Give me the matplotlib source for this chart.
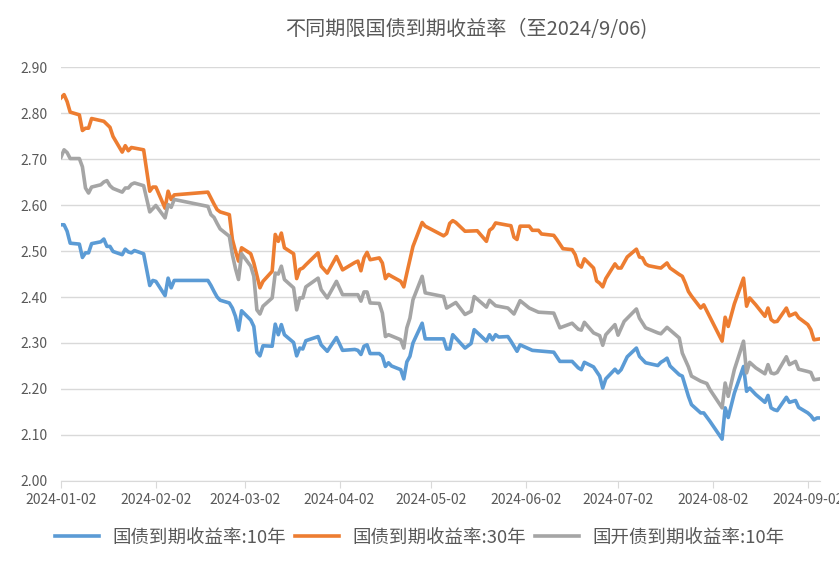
import matplotlib
matplotlib.use("Agg")
import matplotlib.pyplot as plt
import matplotlib.dates as mdates
import pandas as pd

plt.rcParams['font.family'] = ['Noto Sans CJK SC', 'DejaVu Sans']

# 国债 10Y
d10 = ["01-02", "01-03", "01-04", "01-05", "01-08", "01-09", "01-10", "01-11", "01-12", "01-15",
       "01-16", "01-17", "01-18", "01-19", "01-22", "01-23", "01-24", "01-25", "01-26", "01-29",
       "01-31", "02-01", "02-02", "02-05", "02-06", "02-07", "02-08", "02-19", "02-20", "02-21",
       "02-22", "02-23", "02-26", "02-27", "02-28", "02-29", "03-01", "03-04", "03-05", "03-06",
       "03-07", "03-08", "03-11", "03-12", "03-13", "03-14", "03-15", "03-18", "03-19", "03-20",
       "03-21", "03-22", "03-26", "03-27", "03-29", "04-01", "04-03", "04-07", "04-08", "04-09",
       "04-10", "04-11", "04-12", "04-15", "04-16", "04-17", "04-18", "04-19", "04-22", "04-23",
       "04-24", "04-25", "04-26", "04-29", "04-30", "05-06", "05-07", "05-08", "05-09", "05-13",
       "05-15", "05-16", "05-20", "05-21", "05-22", "05-23", "05-24", "05-27", "05-28", "05-29",
       "05-30", "05-31", "06-04", "06-11", "06-13", "06-17", "06-19", "06-20", "06-21", "06-24",
       "06-26", "06-27", "06-28", "07-01", "07-02", "07-03", "07-05", "07-08", "07-09", "07-11",
       "07-15", "07-16", "07-17", "07-18", "07-19", "07-22", "07-23", "07-25", "07-26", "07-29",
       "07-30", "08-01", "08-05", "08-06", "08-07", "08-09", "08-12", "08-13", "08-14", "08-16",
       "08-19", "08-20", "08-21", "08-22", "08-23", "08-26", "08-27", "08-29", "08-30", "09-02",
       "09-03", "09-04", "09-05", "09-06"]
y10 = [2.557, 2.557, 2.543, 2.517, 2.515, 2.486, 2.496, 2.496, 2.516, 2.520,
       2.526, 2.510, 2.510, 2.499, 2.492, 2.504, 2.498, 2.496, 2.501, 2.494,
       2.425, 2.436, 2.434, 2.403, 2.441, 2.420, 2.436, 2.436, 2.425, 2.412,
       2.400, 2.393, 2.387, 2.376, 2.358, 2.328, 2.370, 2.350, 2.336, 2.280,
       2.272, 2.294, 2.293, 2.341, 2.318, 2.340, 2.318, 2.301, 2.272, 2.289,
       2.287, 2.305, 2.314, 2.296, 2.282, 2.312, 2.284, 2.286, 2.284, 2.275,
       2.293, 2.296, 2.277, 2.277, 2.271, 2.249, 2.257, 2.250, 2.242, 2.222,
       2.259, 2.271, 2.300, 2.343, 2.309, 2.309, 2.287, 2.287, 2.318, 2.289,
       2.299, 2.329, 2.304, 2.318, 2.307, 2.318, 2.313, 2.314, 2.304, 2.293,
       2.282, 2.296, 2.284, 2.280, 2.260, 2.260, 2.246, 2.242, 2.258, 2.248,
       2.228, 2.202, 2.222, 2.243, 2.235, 2.242, 2.270, 2.289, 2.271, 2.257,
       2.251, 2.258, 2.262, 2.267, 2.250, 2.231, 2.228, 2.184, 2.166, 2.148,
       2.148, 2.130, 2.091, 2.159, 2.138, 2.191, 2.249, 2.195, 2.202, 2.188,
       2.171, 2.186, 2.159, 2.155, 2.153, 2.182, 2.171, 2.175, 2.160, 2.148,
       2.142, 2.133, 2.137, 2.137]

# 国债 30Y
d30 = ["01-02", "01-03", "01-04", "01-05", "01-08", "01-09", "01-10", "01-11", "01-12", "01-16",
       "01-18", "01-19", "01-22", "01-23", "01-24", "01-25", "01-29", "01-31", "02-01", "02-02",
       "02-05", "02-06", "02-07", "02-08", "02-19", "02-20", "02-21", "02-22", "02-23", "02-26",
       "02-27", "02-28", "02-29", "03-01", "03-04", "03-05", "03-07", "03-08", "03-11", "03-12",
       "03-13", "03-14", "03-15", "03-18", "03-19", "03-20", "03-21", "03-22", "03-26", "03-27",
       "03-29", "04-01", "04-03", "04-07", "04-08", "04-09", "04-10", "04-11", "04-12", "04-15",
       "04-16", "04-17", "04-18", "04-19", "04-22", "04-23", "04-24", "04-26", "04-29", "04-30",
       "05-06", "05-07", "05-08", "05-09", "05-10", "05-13", "05-17", "05-20", "05-21", "05-22",
       "05-23", "05-27", "05-28", "05-29", "05-30", "05-31", "06-03", "06-04", "06-06", "06-07",
       "06-11", "06-12", "06-14", "06-17", "06-18", "06-19", "06-20", "06-21", "06-24", "06-25",
       "06-26", "06-27", "06-28", "07-01", "07-02", "07-03", "07-05", "07-08", "07-09", "07-10",
       "07-11", "07-12", "07-15", "07-16", "07-18", "07-19", "07-22", "07-23", "07-24", "07-25",
       "07-26", "07-29", "07-30", "08-05", "08-06", "08-07", "08-09", "08-12", "08-13", "08-14",
       "08-16", "08-19", "08-20", "08-21", "08-22", "08-23", "08-26", "08-27", "08-29", "08-30",
       "09-02", "09-03", "09-04", "09-06"]
y30 = [2.833, 2.840, 2.825, 2.802, 2.796, 2.762, 2.767, 2.767, 2.788, 2.782,
       2.769, 2.749, 2.715, 2.729, 2.718, 2.725, 2.720, 2.630, 2.639, 2.639,
       2.593, 2.630, 2.612, 2.622, 2.628, 2.615, 2.602, 2.590, 2.585, 2.579,
       2.525, 2.500, 2.478, 2.507, 2.494, 2.474, 2.420, 2.434, 2.456, 2.536,
       2.521, 2.539, 2.507, 2.494, 2.440, 2.460, 2.463, 2.470, 2.496, 2.467,
       2.452, 2.488, 2.459, 2.475, 2.478, 2.457, 2.485, 2.497, 2.481, 2.485,
       2.474, 2.440, 2.449, 2.445, 2.434, 2.422, 2.452, 2.510, 2.562, 2.554,
       2.533, 2.538, 2.560, 2.566, 2.562, 2.543, 2.544, 2.521, 2.545, 2.550,
       2.561, 2.556, 2.555, 2.530, 2.525, 2.554, 2.554, 2.545, 2.545, 2.537,
       2.534, 2.525, 2.505, 2.503, 2.492, 2.470, 2.465, 2.483, 2.463, 2.435,
       2.430, 2.422, 2.440, 2.472, 2.463, 2.463, 2.487, 2.504, 2.487, 2.485,
       2.472, 2.468, 2.464, 2.463, 2.474, 2.463, 2.449, 2.445, 2.430, 2.412,
       2.402, 2.376, 2.383, 2.304, 2.356, 2.336, 2.385, 2.441, 2.380, 2.398,
       2.383, 2.358, 2.376, 2.351, 2.346, 2.347, 2.376, 2.359, 2.365, 2.355,
       2.340, 2.329, 2.307, 2.309]

# 国开债 10Y
dcdb = ["01-02", "01-03", "01-04", "01-05", "01-08", "01-09", "01-10", "01-11", "01-12", "01-15",
        "01-16", "01-17", "01-18", "01-19", "01-22", "01-23", "01-24", "01-25", "01-26", "01-29",
        "01-31", "02-02", "02-05", "02-06", "02-07", "02-08", "02-19", "02-20", "02-21", "02-22",
        "02-23", "02-26", "02-27", "02-28", "02-29", "03-01", "03-04", "03-05", "03-06", "03-07",
        "03-08", "03-11", "03-12", "03-13", "03-14", "03-15", "03-18", "03-19", "03-20", "03-21",
        "03-22", "03-26", "03-27", "03-29", "04-01", "04-03", "04-07", "04-08", "04-09", "04-10",
        "04-11", "04-12", "04-15", "04-16", "04-17", "04-18", "04-22", "04-23", "04-24", "04-25",
        "04-26", "04-29", "04-30", "05-06", "05-07", "05-08", "05-10", "05-13", "05-15", "05-16",
        "05-20", "05-21", "05-23", "05-27", "05-29", "05-31", "06-03", "06-06", "06-11", "06-13",
        "06-17", "06-19", "06-20", "06-21", "06-24", "06-26", "06-27", "06-28", "07-01", "07-02",
        "07-04", "07-08", "07-09", "07-11", "07-15", "07-16", "07-18", "07-22", "07-23", "07-25",
        "07-26", "07-29", "07-31", "08-01", "08-05", "08-06", "08-07", "08-09", "08-12", "08-13",
        "08-14", "08-16", "08-19", "08-20", "08-21", "08-22", "08-23", "08-26", "08-27", "08-29",
        "08-30", "09-02", "09-03", "09-04", "09-06"]
ycdb = [2.704, 2.720, 2.714, 2.701, 2.701, 2.683, 2.637, 2.626, 2.639, 2.644,
        2.650, 2.653, 2.642, 2.636, 2.628, 2.637, 2.637, 2.645, 2.648, 2.642,
        2.585, 2.599, 2.572, 2.601, 2.595, 2.612, 2.597, 2.579, 2.573, 2.560,
        2.548, 2.532, 2.492, 2.462, 2.438, 2.494, 2.467, 2.445, 2.372, 2.363,
        2.380, 2.398, 2.452, 2.450, 2.467, 2.438, 2.420, 2.372, 2.398, 2.398,
        2.422, 2.441, 2.416, 2.398, 2.434, 2.405, 2.405, 2.405, 2.391, 2.411,
        2.411, 2.387, 2.386, 2.365, 2.314, 2.318, 2.307, 2.289, 2.333, 2.354,
        2.394, 2.445, 2.409, 2.401, 2.376, 2.380, 2.388, 2.362, 2.369, 2.401,
        2.378, 2.393, 2.381, 2.376, 2.363, 2.392, 2.376, 2.367, 2.365, 2.333,
        2.343, 2.330, 2.328, 2.345, 2.322, 2.316, 2.295, 2.318, 2.340, 2.317,
        2.347, 2.374, 2.354, 2.333, 2.322, 2.320, 2.334, 2.311, 2.278, 2.248,
        2.228, 2.217, 2.212, 2.199, 2.159, 2.213, 2.184, 2.242, 2.304, 2.235,
        2.258, 2.246, 2.233, 2.253, 2.235, 2.233, 2.236, 2.270, 2.253, 2.260,
        2.243, 2.238, 2.236, 2.220, 2.222]

labels = ["国债到期收益率:10年", "国债到期收益率:30年", "国开债到期收益率:10年"]
colors = ["#5B9BD5", "#ED7D31", "#A5A5A5"]
months = ["01-02", "02-02", "03-02", "04-02", "05-02", "06-02", "07-02", "08-02", "09-02"]


def dt(mmdd):
    return pd.to_datetime(["2024-" + s for s in mmdd])


fig = plt.figure(figsize=(8.39, 5.67), dpi=100)
ax = fig.add_axes([0.0727, 0.1517, 0.9047, 0.7301])

for dates, vals, lab, c in ((d10, y10, labels[0], colors[0]),
                            (d30, y30, labels[1], colors[1]),
                            (dcdb, ycdb, labels[2], colors[2])):
    ax.plot(dt(dates), vals, color=c, lw=2.6, label=lab, solid_joinstyle="round")

ax.set_ylim(2.0, 2.9)
ax.set_yticks([2.0 + 0.1 * i for i in range(10)])
ax.yaxis.set_major_formatter(matplotlib.ticker.FormatStrFormatter("%.2f"))
ax.set_xlim(pd.Timestamp("2024-01-02"), pd.Timestamp("2024-09-06"))
ax.set_xticks(dt(months))
ax.xaxis.set_major_formatter(mdates.DateFormatter("%Y-%m-%d"))

ax.grid(axis="y", color="#D9D9D9", lw=1.0)
ax.set_axisbelow(True)
for s in ("top", "right", "left"):
    ax.spines[s].set_visible(False)
ax.spines["bottom"].set_color("#D9D9D9")
ax.tick_params(axis="y", length=0, labelsize=10, labelcolor="#595959", pad=10)
ax.tick_params(axis="x", length=5, color="#D9D9D9", labelsize=10, labelcolor="#595959", pad=4)

fig.text(0.556, 0.947, "不同期限国债到期收益率（至2024/9/06)", ha="center", va="center",
         fontsize=14.5, color="#595959")

fig.legend(loc="center", bbox_to_anchor=(0.5, 0.052), ncol=3, frameon=False,
           fontsize=13.3, labelcolor="#595959", handlelength=2.4, columnspacing=0.5,
           handletextpad=0.7)

fig.savefig("out.png", dpi=100)
